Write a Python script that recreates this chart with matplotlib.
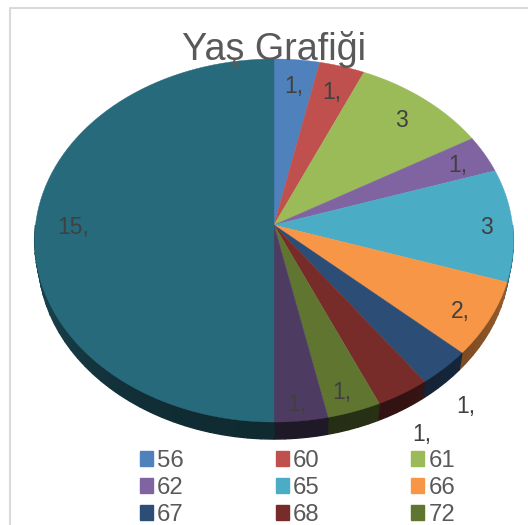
import numpy as np
import matplotlib
matplotlib.use("Agg")
import matplotlib.pyplot as plt
from matplotlib.colors import to_rgb
from matplotlib.patches import Patch

plt.rcParams['font.family'] = ['Liberation Sans', 'DejaVu Sans']

# age groups in the legend, the last two slices are cut off in the source picture
legend_labels = ['56', '60', '61', '62', '65', '66', '67', '68', '72']
values = [1, 1, 3, 1, 3, 2, 1, 1, 1, 1, 15]
value_labels = ['1,', '1,', '3', '1,', '3', '2,', '1,', '1,', '1,', '1,', '15,']
colors = ['#4F81BD', '#C0504D', '#9BBB59', '#8064A2', '#4BACC6', '#F79646',
          '#2C4D75', '#772C2A', '#5F7530', '#4D3B62', '#276A7C']

# where each label sits: fraction of the radius and angle shift from the slice middle
label_radius = [0.84, 0.84, 0.84, 0.87, 0.89, 0.875, 1.18, 1.19, 0.89, 0.91, 0.844]
label_shift = [0, 0, 0, 0, 0, 0.8, 3, 1.7, 0.8, 0.4, 0]

# pie geometry in pixels, tilted with a small perspective
cx, cy = 274, 225
A, B, k = 238.5, 180.2, 0.0854
depth = 17


def project(angle, r=1.0):
    x = r * np.sin(np.radians(angle))
    y = r * np.cos(np.radians(angle))
    w = 1 + k * y
    return cx + A * x / w, cy - B * y / w


fig = plt.figure(figsize=(5.28, 5.25), dpi=100)
ax = fig.add_axes([0, 0, 1, 1])
ax.set_xlim(0, 528)
ax.set_ylim(525, 0)
ax.axis('off')

# chart frame
ax.plot([528, 9.5, 9.5], [7.5, 7.5, 525], color='#D9D9D9', lw=1.5, zorder=1)

edges = np.cumsum([0] + values) / sum(values) * 360

# side wall, only the front half shows, shaded along the arc
for i, color in enumerate(colors):
    a0, a1 = max(edges[i], 90), min(edges[i + 1], 270)
    if a1 <= a0:
        continue
    steps = np.linspace(a0, a1, max(3, int(a1 - a0) // 3 + 2))
    for s0, s1 in zip(steps[:-1], steps[1:]):
        aa = np.linspace(s0, s1, 4)
        px, py = project(aa)
        mid = (s0 + s1) / 2
        shade = 0.40 + 0.25 * abs(np.sin(np.radians(mid))) ** 3
        side = tuple(c * shade for c in to_rgb(color))
        ax.fill(np.r_[px, (cx + (px - cx) * 0.985)[::-1]], np.r_[py, py[::-1] + depth],
                color=side, lw=1.0, zorder=2)

# top face
for i, color in enumerate(colors):
    aa = np.linspace(edges[i], edges[i + 1], 80)
    px, py = project(aa)
    ax.fill(np.r_[cx, px], np.r_[cy, py], color=color, lw=0.3, zorder=3)

# value labels
for i, text in enumerate(value_labels):
    mid = (edges[i] + edges[i + 1]) / 2 + label_shift[i]
    lx, ly = project(mid, label_radius[i])
    ax.text(lx, ly + 2.5, text, fontsize=16.5, color='#404040', ha='center', va='center', zorder=5)

ax.text(273.5, 50, 'Yaş Grafiği', fontsize=27.2, color='#595959', ha='center', va='center', zorder=6)

handles = [Patch(color=c, label=l) for c, l in zip(colors, legend_labels)]
# matplotlib fills columns first, so list the rows column by column
order = [0, 3, 6, 1, 4, 7, 2, 5, 8]
ax.legend([handles[i] for i in order], [legend_labels[i] for i in order], ncol=3,
          loc='upper left', bbox_to_anchor=(140 / 528, 1 - 450 / 525), frameon=False,
          fontsize=17.2, labelcolor='#595959', handlelength=0.54, handleheight=0.54,
          handletextpad=0.17, columnspacing=3.85, labelspacing=0.21, borderpad=0, borderaxespad=0)

fig.savefig('out.png', dpi=100)
